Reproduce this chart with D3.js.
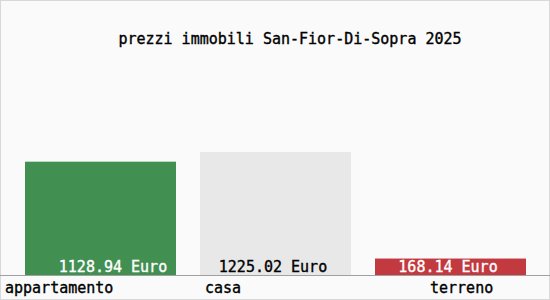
<!DOCTYPE html>
<html>
<head>
<meta charset="utf-8">
<script src="https://cdn.jsdelivr.net/npm/d3@7"></script>
<style>
html, body { margin: 0; padding: 0; background: #fff; }
svg { display: block; }
</style>
</head>
<body>
<script>
// ---- data ----
const title = "prezzi immobili San-Fior-Di-Sopra 2025";
const categories = ["appartamento", "casa", "terreno"];
const values = [1128.94, 1225.02, 168.14];
const valueLabels = ["1128.94 Euro", "1225.02 Euro", "168.14 Euro"];

// ---- layout / style ----
const W = 550, H = 300;
const barColors = ["#418f51", "#e8e8e8", "#c2393f"];
const valueTextColors = ["#ffffff", "#000000", "#ffffff"];
const valueLabelShift = [13, -2, -2];   // px from bar centre
const catLabelShift = [-20, 5, 55];      // px from bar left edge
const font = "'DejaVu Sans Mono', monospace";
const weight = "normal";

const svg = d3.select("body").append("svg")
  .attr("width", W).attr("height", H);

svg.append("rect")
  .attr("x", 0.5).attr("y", 0.5).attr("width", W - 1).attr("height", H - 1)
  .attr("fill", "#fafafa").attr("stroke", "#d8d8d8").attr("stroke-width", 1);

const x = d3.scaleBand().domain(categories).range([0, 550])
  .paddingInner(1/7).paddingOuter(1/7);

const y = d3.scaleLinear().domain([0, d3.max(values)]).range([275.5, 152]);

svg.selectAll("rect.bar").data(categories).join("rect")
  .attr("class", "bar")
  .attr("x", (c) => x(c))
  .attr("width", x.bandwidth() + 1)
  .attr("y", (c, i) => y(values[i]))
  .attr("height", (c, i) => y(0) - y(values[i]))
  .attr("fill", (c, i) => barColors[i]);

svg.append("line")
  .attr("x1", 0).attr("x2", W)
  .attr("y1", 275.5).attr("y2", 275.5)
  .attr("stroke", "#a0a0a0").attr("stroke-width", 1);

svg.append("text")
  .attr("x", 290).attr("y", 44)
  .attr("text-anchor", "middle")
  .attr("font-family", font).attr("font-size", 15).attr("font-weight", weight)
  .attr("stroke", "#000").attr("stroke-width", 0.35)
  .attr("fill", "#000")
  .text(title);

svg.selectAll("text.val").data(categories).join("text")
  .attr("class", "val")
  .attr("x", (c, i) => x(c) + x.bandwidth() / 2 + valueLabelShift[i])
  .attr("y", 272)
  .attr("text-anchor", "middle")
  .attr("font-family", font).attr("font-size", 15).attr("font-weight", weight)
  .attr("fill", (c, i) => valueTextColors[i])
  .attr("stroke", (c, i) => valueTextColors[i]).attr("stroke-width", 0.35)
  .text((c, i) => valueLabels[i]);

svg.selectAll("text.cat").data(categories).join("text")
  .attr("class", "cat")
  .attr("x", (c, i) => x(c) + catLabelShift[i])
  .attr("y", 293)
  .attr("text-anchor", "start")
  .attr("font-family", font).attr("font-size", 15).attr("font-weight", weight)
  .attr("stroke", "#000").attr("stroke-width", 0.35)
  .attr("fill", "#000")
  .text(c => c);
</script>
</body>
</html>
